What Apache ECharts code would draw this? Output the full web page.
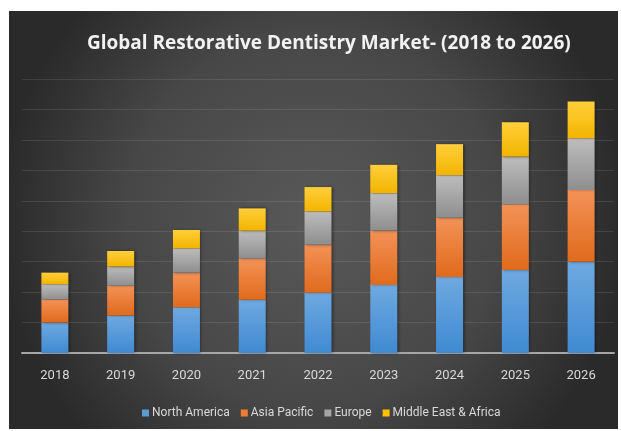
<!DOCTYPE html>
<html>
<head>
<meta charset="utf-8">
<script src="https://cdn.jsdelivr.net/npm/echarts@6/dist/echarts.min.js"></script>
<style>
html,body{margin:0;padding:0;background:#fff;}
#chart{width:621px;height:431px;}
</style>
</head>
<body>
<div id="chart"></div>
<script>
var years = ['2018','2019','2020','2021','2022','2023','2024','2025','2026'];
var northAmerica = [1.00, 1.23, 1.50, 1.75, 1.98, 2.23, 2.50, 2.73, 3.00];
var asiaPacific  = [0.76, 0.98, 1.14, 1.35, 1.58, 1.79, 1.94, 2.16, 2.35];
var europe       = [0.50, 0.63, 0.80, 0.92, 1.09, 1.23, 1.40, 1.56, 1.70];
var middleEast   = [0.38, 0.51, 0.60, 0.73, 0.80, 0.93, 1.02, 1.13, 1.21];
var seriesNames = ['North America','Asia Pacific','Europe','Middle East & Africa'];

var chart = echarts.init(document.getElementById('chart'));
function grad(top, bottom){
  return new echarts.graphic.LinearGradient(0,0,0,1,[{offset:0,color:top},{offset:1,color:bottom}]);
}
var fills = [
  grad('#6fa9e0','#3f8ad2'),
  grad('#f39257','#e06a1c'),
  grad('#bdbdbd','#8e8e8e'),
  grad('#ffcf3a','#f2b400')
];
var legendColors = ['#5b9bd5','#ed7d31','#a5a5a5','#ffc000'];
var dataSets = [northAmerica, asiaPacific, europe, middleEast];
var series = dataSets.map(function(d,i){
  return {
    name: seriesNames[i],
    type: 'bar',
    stack: 'total',
    barWidth: 27,
    data: d,
    itemStyle: {
      color: fills[i],
      shadowColor: 'rgba(0,0,0,0.45)',
      shadowBlur: 3,
      shadowOffsetX: 1.5,
      shadowOffsetY: 0
    },
    emphasis: {disabled: true}
  };
});

chart.setOption({
  animation: false,
  backgroundColor: '#ffffff',
  graphic: [{
    type: 'rect',
    z: -10,
    silent: true,
    shape: {x: 9, y: 11, width: 609, height: 418},
    style: {
      fill: new echarts.graphic.RadialGradient(0.5, 0.5, 0.75, [
        {offset: 0, color: '#595959'},
        {offset: 0.6, color: '#474747'},
        {offset: 1, color: '#2a2a2a'}
      ])
    }
  }],
  title: {
    text: 'Global Restorative Dentistry Market- (2018 to 2026)',
    left: 82,
    top: 29,
    textStyle: {
      color: '#f2f2f2',
      fontFamily: 'Open Sans',
      fontWeight: 'bold',
      fontSize: 19
    }
  },
  legend: {
    data: seriesNames.map(function(n,i){return {name:n, itemStyle:{color:legendColors[i]}};}),
    bottom: 7,
    left: 137,
    itemWidth: 7,
    itemHeight: 7,
    itemGap: 11,
    icon: 'rect',
    textStyle: {color: '#d9d9d9', fontSize: 12, fontFamily: 'Roboto', padding: [0,0,0,-2]}
  },
  grid: {left: 22, right: 7, top: 79, bottom: 78, containLabel: false},
  xAxis: {
    type: 'category',
    data: years,
    axisLine: {lineStyle: {color: '#a6a6a6', width: 2}},
    axisTick: {show: false},
    axisLabel: {color: '#d9d9d9', fontSize: 13, margin: 16, fontFamily: 'Roboto'}
  },
  yAxis: {
    type: 'value',
    min: 0,
    max: 9,
    interval: 1,
    axisLabel: {show: false},
    axisLine: {show: false},
    axisTick: {show: false},
    splitLine: {lineStyle: {color: 'rgba(255,255,255,0.10)', width: 1}}
  },
  series: series
});
</script>
</body>
</html>
